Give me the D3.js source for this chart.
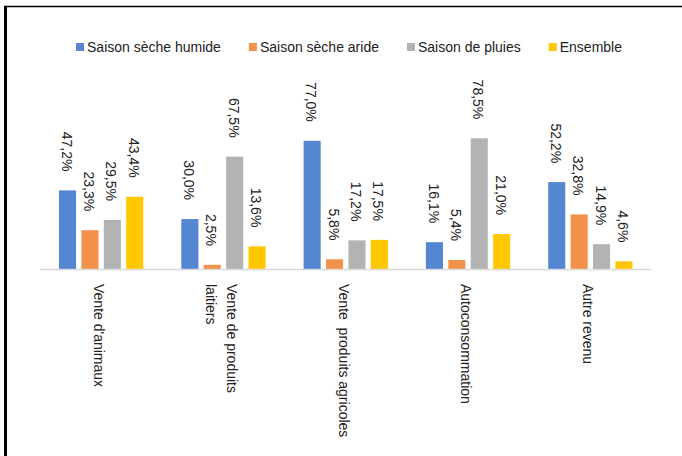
<!DOCTYPE html>
<html>
<head>
<meta charset="utf-8">
<script src="https://cdn.jsdelivr.net/npm/d3@7"></script>
<style>
  html, body { margin: 0; padding: 0; background: #fff; }
  svg { display: block; }
  text { font-family: "Liberation Sans", Arial, sans-serif; fill: #222; }
</style>
</head>
<body>
<svg id="chart" width="682" height="456"></svg>
<script>
const categories = [["Vente d'animaux"], ["Vente de produits", "laitiers"], ["Vente  produits agricoles"], ["Autoconsommation"], ["Autre revenu"]];
const seriesNames = ["Saison sèche humide", "Saison sèche aride", "Saison de pluies", "Ensemble"];
const seriesColors = ["#5586D2", "#F1914A", "#B3B3B3", "#FFC800"];
const humide = [47.2, 30.0, 77.0, 16.1, 52.2];
const aride = [23.3, 2.5, 5.8, 5.4, 32.8];
const pluies = [29.5, 67.5, 17.2, 78.5, 14.9];
const ensemble = [43.4, 13.6, 17.5, 21.0, 4.6];
const seriesValues = [humide, aride, pluies, ensemble];

const svg = d3.select("#chart");
svg.append("rect").attr("width", 682).attr("height", 456).attr("fill", "#fff");

// frame
svg.append("line").attr("x1", 4).attr("x2", 682).attr("y1", 6.5).attr("y2", 6.5)
  .attr("stroke", "#000").attr("stroke-width", 1.5);
svg.append("line").attr("x1", 5.5).attr("x2", 5.5).attr("y1", 6).attr("y2", 456)
  .attr("stroke", "#000").attr("stroke-width", 3);

const catKeys = categories.map((c, i) => i);
const x0 = d3.scaleBand().domain(catKeys).range([40, 651.5]).padding(0);
const x1 = d3.scaleBand().domain(d3.range(seriesNames.length))
  .range([19, x0.bandwidth() - 19]).paddingInner(0.238).paddingOuter(0);
const y = d3.scaleLinear().domain([0, 100]).range([269, 269 - 166.5]);

// bars
const groups = svg.append("g").selectAll("g").data(catKeys).join("g")
  .attr("transform", d => `translate(${x0(d)},0)`);

groups.selectAll("rect").data(ci => seriesValues.map((vals, si) => ({ si, v: vals[ci] })))
  .join("rect")
  .attr("x", d => x1(d.si))
  .attr("width", x1.bandwidth())
  .attr("y", d => y(d.v))
  .attr("height", d => y(0) - y(d.v))
  .attr("fill", d => seriesColors[d.si]);

groups.selectAll("text.val").data(ci => seriesValues.map((vals, si) => ({ si, v: vals[ci] })))
  .join("text").attr("class", "val")
  .attr("transform", d => `translate(${x1(d.si) + x1.bandwidth() / 2 - 1},${y(d.v) - 19}) rotate(90)`)
  .attr("text-anchor", "end")
  .attr("dy", "0.35em")
  .style("font-size", "14px")
  .text(d => d3.format(".1f")(d.v).replace(".", ",") + "%");

// axis baseline
svg.append("line").attr("x1", 40).attr("x2", 651).attr("y1", 269.5).attr("y2", 269.5)
  .attr("stroke", "#D9D9D9").attr("stroke-width", 1.5);

// category labels
const cl = svg.append("g").selectAll("text").data(catKeys).join("text")
  .attr("transform", d => `translate(${x0(d) + x0.bandwidth() / 2 - 2},284) rotate(90)`)
  .attr("text-anchor", "start")
  .style("font-size", "14px");
cl.each(function(d) {
  const lines = categories[d];
  const n = lines.length;
  d3.select(this).selectAll("tspan").data(lines).join("tspan")
    .attr("x", 0)
    .attr("y", (l, i) => (i - (n - 1) / 2) * 21)
    .attr("dy", "0.35em")
    .style("white-space", "pre")
    .text(l => l);
});
svg.selectAll("text").attr("xml:space", "preserve");

// legend
const legend = svg.append("g");
const items = legend.selectAll("g").data(seriesNames).join("g");
items.append("rect").attr("width", 8).attr("height", 8).attr("y", 43)
  .attr("fill", (d, i) => seriesColors[i]);
items.append("text").attr("x", 11).attr("y", 47).attr("dy", "0.35em")
  .style("font-size", "14px").text(d => d);
let xpos = 0;
const gap = 28;
const widths = [];
items.each(function() { widths.push(d3.select(this).select("text").node().getComputedTextLength() + 11); });
const total = d3.sum(widths) + gap * (widths.length - 1);
xpos = 349 - total / 2;
items.attr("transform", (d, i) => { const t = `translate(${xpos},0)`; xpos += widths[i] + gap; return t; });
</script>
</body>
</html>
